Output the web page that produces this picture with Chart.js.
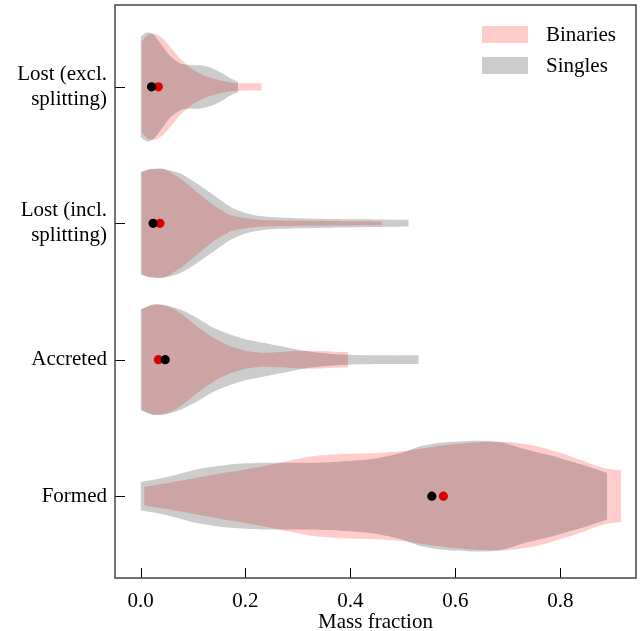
<!DOCTYPE html>
<html>
<head>
<meta charset="utf-8">
<script src="https://cdn.jsdelivr.net/npm/chart.js@4.4.1/dist/chart.umd.min.js"></script>
<style>
  html, body { margin: 0; padding: 0; background: #fff; }
  #wrap { width: 644px; height: 631px; }
</style>
</head>
<body>
<div id="wrap"><canvas id="chart" width="644" height="631"></canvas></div>
<script>
// categories, top to bottom
const categories = [['Lost (excl.', 'splitting)'], ['Lost (incl.', 'splitting)'], ['Accreted'], ['Formed']];
const positions = [0, 1, 2, 3];
const seriesNames = ['Binaries', 'Singles'];
const seriesColors = ['rgba(255, 0, 0, 0.2)', 'rgba(0, 0, 0, 0.2)'];
const xTicks = [0, 0.2, 0.4, 0.6, 0.8];

// violin outlines: mass fraction grid and half width (in category units)
const lostExclBinX = [0.002, 0.014, 0.028, 0.043, 0.057, 0.076, 0.096, 0.115, 0.134, 0.163, 0.182, 0.202, 0.231];
const lostExclBinW = [0.330, 0.381, 0.388, 0.352, 0.293, 0.205, 0.139, 0.095, 0.066, 0.037, 0.029, 0.026, 0.026];
const lostExclSinX = [0.0, 0.01, 0.019, 0.029, 0.043, 0.058, 0.077, 0.096, 0.115, 0.135, 0.154, 0.173, 0.186];
const lostExclSinW = [0.366, 0.396, 0.396, 0.366, 0.293, 0.220, 0.169, 0.161, 0.158, 0.139, 0.103, 0.059, 0.037];

const lostInclBinX = [0.002, 0.018, 0.044, 0.075, 0.107, 0.139, 0.171, 0.202, 0.234, 0.298, 0.361, 0.425, 0.460];
const lostInclBinW = [0.374, 0.396, 0.398, 0.330, 0.232, 0.134, 0.061, 0.037, 0.024, 0.020, 0.017, 0.015, 0.012];
const lostInclSinX = [0.0, 0.018, 0.044, 0.075, 0.107, 0.139, 0.171, 0.202, 0.234, 0.298, 0.361, 0.425, 0.511];
const lostInclSinW = [0.374, 0.396, 0.398, 0.366, 0.293, 0.207, 0.122, 0.073, 0.049, 0.037, 0.032, 0.029, 0.024];

const accretedBinX = [0.002, 0.024, 0.05, 0.075, 0.107, 0.139, 0.171, 0.202, 0.234, 0.266, 0.298, 0.329, 0.361, 0.396];
const accretedBinW = [0.369, 0.401, 0.393, 0.344, 0.247, 0.161, 0.100, 0.064, 0.051, 0.056, 0.064, 0.066, 0.061, 0.056];
const accretedSinX = [0.0, 0.024, 0.05, 0.075, 0.107, 0.139, 0.171, 0.202, 0.234, 0.266, 0.298, 0.329, 0.361, 0.396, 0.46, 0.53];
const accretedSinW = [0.369, 0.405, 0.398, 0.369, 0.308, 0.234, 0.185, 0.149, 0.125, 0.100, 0.075, 0.056, 0.044, 0.037, 0.032, 0.032];

const formedBinX = [0.007, 0.044, 0.107, 0.171, 0.234, 0.279, 0.329, 0.393, 0.457, 0.501, 0.565, 0.628, 0.692, 0.755, 0.819, 0.882, 0.916];
const formedBinW = [0.068, 0.090, 0.134, 0.178, 0.220, 0.256, 0.293, 0.310, 0.317, 0.330, 0.366, 0.391, 0.398, 0.366, 0.293, 0.207, 0.190];
const formedSinX = [0.0, 0.044, 0.107, 0.171, 0.234, 0.298, 0.361, 0.438, 0.47, 0.501, 0.533, 0.565, 0.596, 0.628, 0.66, 0.692, 0.724, 0.755, 0.787, 0.819, 0.851, 0.889];
const formedSinW = [0.103, 0.134, 0.196, 0.232, 0.244, 0.244, 0.249, 0.271, 0.293, 0.322, 0.366, 0.388, 0.399, 0.405, 0.405, 0.391, 0.352, 0.322, 0.293, 0.256, 0.220, 0.171];

// medians
const binariesMedian = [0.034, 0.037, 0.034, 0.577];
const singlesMedian = [0.021, 0.024, 0.047, 0.555];

const binX = [lostExclBinX, lostInclBinX, accretedBinX, formedBinX];
const binW = [lostExclBinW, lostInclBinW, accretedBinW, formedBinW];
const sinX = [lostExclSinX, lostInclSinX, accretedSinX, formedSinX];
const sinW = [lostExclSinW, lostInclSinW, accretedSinW, formedSinW];

Chart.defaults.font.family = '"Liberation Serif", "Times New Roman", serif';
Chart.defaults.font.size = 21;
Chart.defaults.color = '#000';

// two edge lines per violin, the second one filled down to the first
function violin(xs, ws, pos, color, order) {
  const edge = {
    type: 'line', order: order, pointRadius: 0, borderWidth: 0,
    borderColor: 'rgba(0,0,0,0)', tension: 0.25
  };
  return [
    Object.assign({}, edge, { data: xs.map((x, i) => ({ x: x, y: pos - ws[i] })), fill: false }),
    Object.assign({}, edge, { data: xs.map((x, i) => ({ x: x, y: pos + ws[i] })), fill: '-1', backgroundColor: color })
  ];
}

const datasets = [];
positions.forEach((p, i) => datasets.push(...violin(binX[i], binW[i], p, seriesColors[0], 3)));
positions.forEach((p, i) => datasets.push(...violin(sinX[i], sinW[i], p, seriesColors[1], 2)));
datasets.push({
  type: 'line', order: 1, showLine: false, pointRadius: 4.6, pointBorderWidth: 0,
  pointBackgroundColor: '#dd0000', data: positions.map((p, i) => ({ x: binariesMedian[i], y: p }))
});
datasets.push({
  type: 'line', order: 0, showLine: false, pointRadius: 4.6, pointBorderWidth: 0,
  pointBackgroundColor: '#000', data: positions.map((p, i) => ({ x: singlesMedian[i], y: p }))
});

/*frame, inward ticks and legend*/
const decorations = {
  id: 'decorations',
  afterDatasetsDraw(chart) {
    const { ctx, chartArea, scales } = chart;
    ctx.save();
    ctx.strokeStyle = '#000';
    ctx.lineWidth = 1;
    ctx.beginPath();
    xTicks.forEach(v => {
      const px = Math.round(scales.x.getPixelForValue(v)) + 0.5;
      ctx.moveTo(px, chartArea.bottom);
      ctx.lineTo(px, chartArea.bottom - 10);
    });
    positions.forEach(v => {
      const py = Math.round(scales.y.getPixelForValue(v)) + 0.5;
      ctx.moveTo(chartArea.left, py);
      ctx.lineTo(chartArea.left + 10, py);
    });
    ctx.stroke();
    ctx.strokeStyle = '#444';
    ctx.lineWidth = 1.5;
    ctx.strokeRect(chartArea.left, chartArea.top, chartArea.right - chartArea.left, chartArea.bottom - chartArea.top);

    const lx = chartArea.right - 154, ly = chartArea.top + 21;
    ctx.font = '21px "Liberation Serif", serif';
    ctx.textAlign = 'left';
    ctx.textBaseline = 'middle';
    seriesNames.forEach((name, i) => {
      ctx.fillStyle = seriesColors[i];
      ctx.fillRect(lx, ly + i * 31, 46, 17);
      ctx.fillStyle = '#000';
      ctx.fillText(name, lx + 64, ly + i * 31 + 9);
    });
    ctx.restore();
  }
};

new Chart(document.getElementById('chart'), {
  type: 'line',
  data: { datasets: datasets },
  options: {
    responsive: false,
    animation: false,
    layout: { padding: { top: 5, right: 8, left: 0, bottom: 0 } },
    plugins: { legend: { display: false }, tooltip: { enabled: false } },
    scales: {
      x: {
        type: 'linear',
        min: -0.0486,
        max: 0.944,
        afterBuildTicks: s => { s.ticks = xTicks.map(v => ({ value: v })); },
        afterFit: s => { s.height = 53; s.paddingLeft = 0; s.paddingRight = 0; },
        grid: { display: false, drawTicks: false },
        border: { display: false },
        ticks: { padding: 11, maxRotation: 0, callback: v => v.toFixed(1) },
        title: { display: true, text: 'Mass fraction', padding: { top: 0, bottom: -4 } }
      },
      y: {
        type: 'linear',
        reverse: true,
        min: -0.6,
        max: 3.6,
        afterBuildTicks: s => { s.ticks = positions.map(v => ({ value: v })); },
        afterFit: s => { s.width = 115; s.paddingTop = 0; s.paddingBottom = 0; },
        grid: { display: false, drawTicks: false },
        border: { display: false },
        ticks: { padding: 8, callback: v => categories[v] }
      }
    }
  },
  plugins: [decorations]
});
</script>
</body>
</html>
